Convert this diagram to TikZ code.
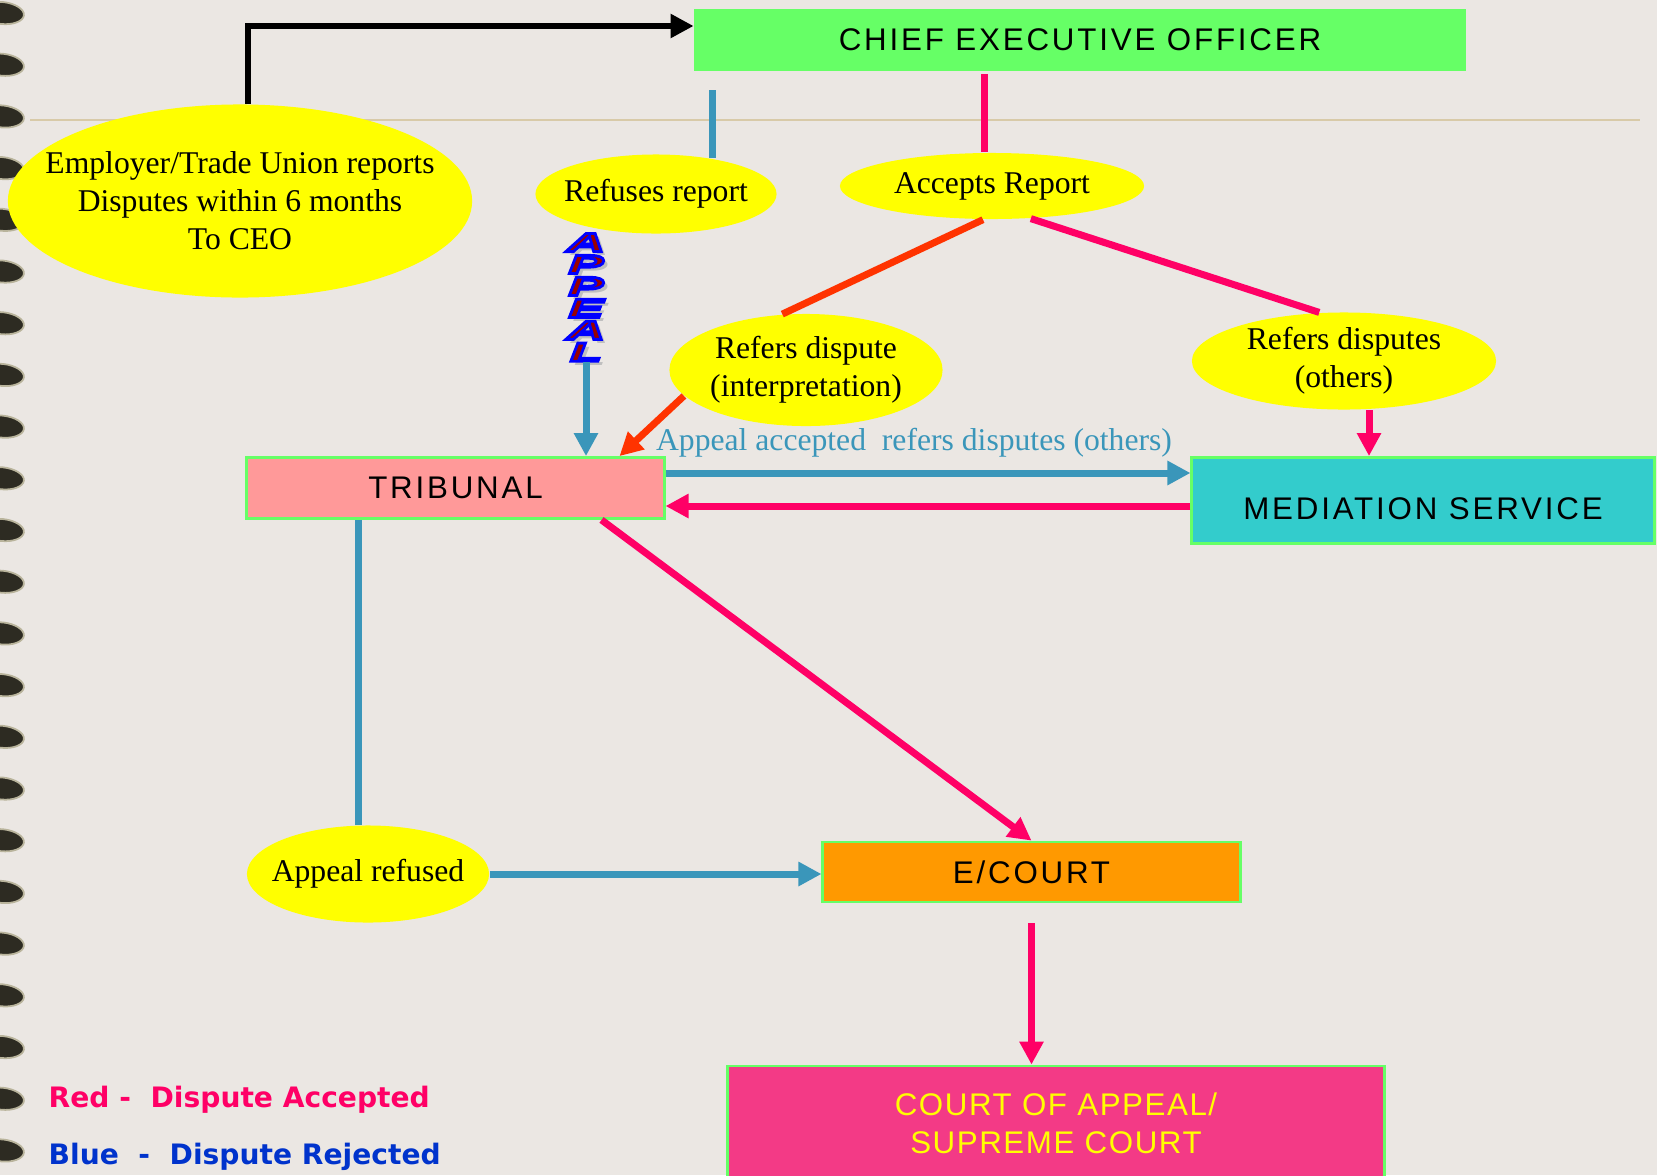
\documentclass[tikz,border=0pt]{standalone}
\usepackage{fontspec}
\setmainfont{Liberation Serif}
\newfontfamily\boxfont[LetterSpace=9]{Liberation Sans}
\newfontfamily\courtfont[LetterSpace=5]{Liberation Sans}
\newfontfamily\legfont{DejaVu Sans}
\newfontfamily\appealfont[FakeStretch=2.0]{Liberation Sans}
\usetikzlibrary{arrows.meta,shapes.geometric}
\definecolor{paper}{HTML}{EBE7E3}
\definecolor{blobc}{HTML}{2D2B22}
\definecolor{blobrim}{HTML}{B9B49C}
\definecolor{rulec}{HTML}{D8CAA8}
\definecolor{ceogreen}{HTML}{66FF66}
\definecolor{boxedge}{HTML}{66FF66}
\definecolor{tribpink}{HTML}{FF9999}
\definecolor{medcyan}{HTML}{33CCCC}
\definecolor{ecorange}{HTML}{FF9900}
\definecolor{courtpink}{HTML}{F33A86}
\definecolor{courtyellow}{HTML}{FFFF00}
\definecolor{bubblec}{HTML}{FFFF00}
\definecolor{pinkc}{HTML}{FF0066}
\definecolor{bluec}{HTML}{3A96BA}
\definecolor{orangec}{HTML}{FF3300}
\definecolor{legblue}{HTML}{0033CC}
\definecolor{appealred}{HTML}{990000}
\newcommand{\appealon}{\special{pdf:literal direct 2 Tr 0 0 1 RG 0.8 w}}
\newcommand{\appealoff}{\special{pdf:literal direct 0 Tr}}
\tikzset{
  boss/.style={rectangle, fill=ceogreen, inner sep=0pt, minimum width=7.71cm, minimum height=0.625cm, font=\boxfont\fontsize{8.9}{10.8}\selectfont},
  board/.style={rectangle, draw=boxedge, line width=0.8pt, inner sep=0pt, font=\boxfont\fontsize{8.9}{10.8}\selectfont},
  bubble/.style={ellipse, fill=bubblec, inner xsep=-0.6cm, inner ysep=-0.15cm, align=center, font=\fontsize{9}{10.8}\selectfont},
  notetext/.style={inner sep=0pt, text=bluec, font=\fontsize{9}{10.8}\selectfont},
  legend/.style={inner sep=0pt, font=\legfont\bfseries\fontsize{8}{9.6}\selectfont},
  appealword/.style={inner sep=0pt, align=center, text=appealred, font=\appealfont\bfseries\itshape\fontsize{7.5}{6.24}\selectfont},
  pinkline/.style={draw=pinkc, line width=0.07cm},
  blueline/.style={draw=bluec, line width=0.07cm},
  orangeline/.style={draw=orangec, line width=0.07cm},
  blackline/.style={draw=black, line width=0.055cm},
  arrow/.style={-{Triangle[length=0.23cm,width=0.23cm]}}
}
\begin{document}
\begin{tikzpicture}[x=0.01cm, y=-0.01cm]
  % page
  \fill[paper] (0,0) rectangle (1657,1175);
  \useasboundingbox (0,0) rectangle (1657,1175);
  \foreach \i in {0,...,22}
    \filldraw[fill=blobc, draw=blobrim, line width=0.5pt, rotate around={-6:(2,{13+51.7*\i})}]
      (2,{13+51.7*\i}) ellipse [x radius=0.22cm, y radius=0.11cm];
  \draw[rulec, line width=0.5pt] (30,120) -- (1640,120);

  % boxes
  \node[boss] (ceo) at (1080,40) {CHIEF EXECUTIVE OFFICER};
  \node[board, fill=tribpink, minimum width=4.17cm, minimum height=0.61cm] (trib) at (455.5,488) {TRIBUNAL};
  \node[board, fill=medcyan, minimum width=4.62cm, minimum height=0.86cm, text height=0.4cm, text depth=0.015cm] (med) at (1423,500.5) {MEDIATION SERVICE};
  \node[board, fill=ecorange, minimum width=4.17cm, minimum height=0.60cm] (ecourt) at (1031.5,872) {E/COURT};
  \node[board, fill=courtpink, text=courtyellow, align=center, font=\courtfont\fontsize{8.9}{10.8}\selectfont, minimum width=6.56cm, minimum height=1.14cm] (court) at (1056,1123) {COURT OF APPEAL/\\SUPREME COURT};

  % bubbles
  \node[bubble, minimum width=4.64cm, minimum height=1.93cm] (emp) at (240,201) {Employer/Trade Union reports\\Disputes within 6 months\\To CEO};
  \node[bubble, minimum width=2.41cm, minimum height=0.79cm] (refuse) at (656,194) {Refuses report};
  \node[bubble, minimum width=3.04cm, minimum height=0.66cm] (accept) at (992,186) {Accepts Report};
  \node[bubble, minimum width=2.73cm, minimum height=1.12cm] (interp) at (806,370) {Refers dispute\\(interpretation)};
  \node[bubble, minimum width=3.04cm, minimum height=0.97cm] (others) at (1344,361) {Refers disputes\\(others)};
  \node[bubble, minimum width=2.42cm, minimum height=0.97cm] (appref) at (368,874) {Appeal refused};

  \node[notetext, anchor=base] (acclab) at (914,450) {Appeal accepted~ refers disputes (others)};

  % legend
  \node[legend, text=pinkc, anchor=base west] (legred) at (48,1107) {Red -~ Dispute Accepted};
  \node[legend, text=legblue, anchor=base west] (legblue) at (48,1164) {Blue~ -~ Dispute Rejected};

  % connectors
  \coordinate (ceoL) at (712,90);
  \coordinate (ceoM) at (984,74);
  \draw[blackline, arrow] ([xshift=0.08cm]emp.north) |- ([yshift=0.14cm]ceo.west);
  \draw[blueline] (ceoL) -- (ceoL |- refuse.32);
  \draw[pinkline] (ceoM) -- (ceoM |- accept.north);
  \draw[orangeline] (accept.-105) -- (interp.113);
  \draw[pinkline] (accept.-40) -- (others.117);
  \draw[orangeline, arrow] (interp.-168) -- ([xshift=-0.46cm]trib.north east);
  \draw[pinkline, arrow] ([xshift=0.25cm]others.south) -- ([xshift=0.25cm]others.south |- med.north);
  \draw[blueline, arrow] ([yshift=0.15cm]trib.east) -- ([yshift=0.15cm]trib.east -| med.west);
  \draw[pinkline, arrow] ([yshift=-0.18cm]trib.east -| med.west) -- ([yshift=-0.18cm]trib.east);
  \draw[pinkline, arrow] ([xshift=-0.64cm]trib.south east) -- (ecourt.north);
  \draw[blueline] ([xshift=1.13cm]trib.south west) -- ([xshift=1.13cm]trib.south west |- appref.north);
  \draw[blueline, arrow] (appref.east) -- (appref.east -| ecourt.west);
  \draw[pinkline, arrow] ([yshift=-0.2cm]ecourt.south) -- (ecourt.south |- court.north);

  % appeal word
  \node[appealword, text=gray!50, anchor=south] (appshadow) at (590,366) {A\\P\\P\\E\\A\\L};
  \node[appealword, anchor=south] (appeal) at (586,362) {\appealon A\\P\\P\\E\\A\\L\appealoff};
  \draw[blueline, arrow] (appeal.south) -- (appeal.south |- trib.north);
\end{tikzpicture}
\end{document}
